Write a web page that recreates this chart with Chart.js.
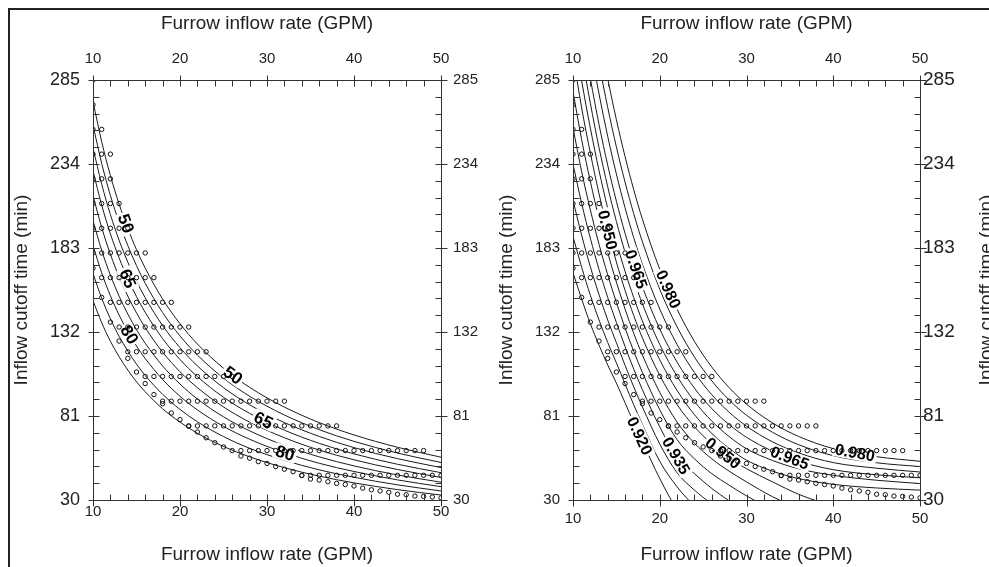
<!DOCTYPE html>
<html>
<head>
<meta charset="utf-8">
<script src="https://cdn.jsdelivr.net/npm/chart.js@4.4.0/dist/chart.umd.min.js"></script>
<style>
  html, body { margin: 0; padding: 0; background: #fff; overflow: hidden; }
  #frame { position: absolute; left: 8px; top: 8px; width: 1200px; height: 700px;
           border-left: 2px solid #222; border-top: 2px solid #222; }
  #left { position: absolute; left: 0; top: 0; }
  #right { position: absolute; left: 490px; top: 0; }
</style>
</head>
<body>
<div id="frame"></div>
<canvas id="left" width="490" height="567"></canvas>
<canvas id="right" width="530" height="567"></canvas>
<script>
// axis ticks
const qTicks = [10, 20, 30, 40, 50];
const tTicks = [30, 81, 132, 183, 234, 285];

// simulated runs: rows of cutoff times, first/last inflow rate on each row
const rowTimes = [285, 270, 255, 240, 225, 210, 195, 180, 165, 150, 135, 120, 105, 90, 75, 60, 45];
const rowFirstQ = [10, 10, 10, 10, 10, 10, 10, 10, 11, 12, 13, 14, 16, 18, 21, 26, 34];
const rowLastQ = [10, 10, 11, 12, 12, 13, 14, 16, 17, 19, 21, 23, 26, 32, 38, 48, 50];
// runs along the lower edge
const edgeQ = [10, 11, 12, 13, 14, 15, 16, 17, 18, 19, 20, 21, 22, 23, 24, 25, 27, 28, 29, 30,
  31, 32, 33, 34, 35, 36, 37, 38, 39, 40, 41, 42, 43, 44, 45, 46, 47, 48, 49, 50];
const edgeT = [170.7, 153, 138, 126.5, 116, 107.7, 100.7, 94, 88.5, 82.8, 78.8, 74.8, 71.3, 67.8, 64.8, 62.2, 56.7, 55.4, 53.3, 52.2,
  50.3, 48.7, 47.2, 44.8, 42.7, 42.1, 41.1, 40.1, 39.4, 38.5, 37.2, 36.2, 35.5, 34.7, 33.5, 33.2, 32.4, 32.2, 31.8, 31.3];

// left panel: efficiency contours (%)
const effQ = [10, 11, 12, 13, 14, 15, 16, 18, 20, 22, 25, 28, 32, 36, 40, 45, 50];
const ea50 = [272, 247.5, 227, 209.7, 194.9, 182, 170.8, 152, 137, 124.7, 110, 98.4, 86.4, 77, 69.5, 62, 56];
const ea55 = [257.6, 234.3, 214.9, 198.5, 184.5, 172.3, 161.6, 143.8, 129.6, 118, 104, 93, 81.6, 72.7, 65.6, 58.5, 52.8];
const ea60 = [243.7, 221.7, 203.3, 187.7, 174.4, 162.9, 152.8, 135.9, 122.5, 111.4, 98.2, 87.8, 77, 68.6, 61.8, 55.1, 49.7];
const ea65 = [229.8, 209, 191.6, 177, 164.4, 153.5, 143.9, 128, 115.3, 104.9, 92.4, 82.6, 72.4, 64.4, 58, 51.7, 46.6];
const ea70 = [214.9, 195.4, 179.2, 165.5, 153.8, 143.6, 134.6, 119.8, 107.9, 98.2, 86.5, 77.3, 67.8, 60.3, 54.4, 48.5, 43.7];
const ea75 = [199.6, 181.5, 166.5, 153.8, 142.9, 133.4, 125.2, 111.4, 100.4, 91.3, 80.5, 72, 63.1, 56.2, 50.7, 45.2, 40.8];
const ea80 = [184.5, 167.9, 154, 142.3, 132.2, 123.5, 115.9, 103.2, 93, 84.7, 74.7, 66.9, 58.7, 52.3, 47.3, 42.2, 38.1];
const ea85 = [167.5, 152.5, 140, 129.4, 120.4, 112.5, 105.6, 94.2, 85, 77.5, 68.5, 61.4, 54.1, 48.3, 43.8, 39.2, 35.5];
const ea90 = [151, 137.6, 126.4, 117, 108.9, 101.8, 95.7, 85.4, 77.3, 70.5, 62.5, 56.2, 49.6, 44.5, 40.4, 36.3, 33];

// right panel: uniformity contours
const duQ = [10, 11, 12, 13, 14, 15, 16, 17, 18, 20, 22, 24, 26, 28, 30, 33, 36, 40, 45, 50];
const du920 = [168, 152, 137, 124, 112, 101, 89, 77, 65.5, 43, 24, 10, null, null, null, null, null, null, null, null];
const du925 = [190, 171.3, 154.3, 139.3, 125.7, 113.3, 100.4, 87.8, 75.9, 53.5, 38, 26, null, null, null, null, null, null, null, null];
const du930 = [212, 190.7, 171.6, 154.7, 139.3, 125.5, 111.8, 98.7, 86.5, 64, 46.5, 36, 27.5, null, null, null, null, null, null, null];
const du935 = [234, 210, 188.9, 170, 153, 137.8, 123.2, 109.5, 97, 74.4, 56, 46, 37, 29.5, 22, null, null, null, null, null];
const du940 = [256, 229.3, 206.1, 185.3, 166.7, 150, 134.5, 120.3, 107.4, 84.8, 66.6, 55, 46, 39, 32.5, 24, null, null, null, null];
const du945 = [278, 248.7, 223.4, 200.7, 180.3, 162.3, 145.9, 131.2, 118, 95.3, 77.3, 64.5, 55, 47.5, 41, 32, 25, null, null, null];
const du950 = [300, 268, 240.7, 216, 194, 174.5, 157.3, 142, 128.4, 105.7, 87.9, 74.5, 64, 55.5, 49, 41, 33.5, 26, null, null];
const du955 = [317.7, 284.5, 255.8, 230, 207.1, 186.8, 168.8, 152.9, 138.7, 115.1, 96.5, 81.8, 70.4, 61.3, 54.2, 47.5, 43, 39.5, 37.3, 36];
const du960 = [335.3, 301, 270.9, 244, 220.2, 199.1, 180.4, 163.8, 149.1, 124.4, 105.1, 89.9, 77.9, 68.5, 61.1, 54, 49, 45, 42, 40];
const du965 = [353, 317.5, 286, 258, 233.3, 211.4, 191.9, 174.7, 159.4, 133.8, 113.7, 97.9, 85.5, 75.8, 68.1, 59.6, 53.6, 48.4, 45.3, 43.5];
const du970 = [375, 338.3, 305.7, 276.6, 250.8, 227.9, 207.4, 189.3, 173.1, 145.9, 124.4, 107.4, 93.9, 83.3, 74.8, 65.3, 58.6, 52.7, 49.3, 47];
const du975 = [397, 359.2, 325.3, 295.2, 268.4, 244.4, 223, 203.8, 186.8, 158, 135.1, 116.8, 102.3, 90.7, 81.5, 71.1, 63.6, 56.9, 52.6, 50.3];
const du980 = [419, 380, 345, 313.8, 285.9, 260.9, 238.5, 218.4, 200.5, 170.1, 145.8, 126.3, 110.7, 98.2, 88.2, 76.8, 68.6, 61.2, 56.3, 53.5];

// contour labels: text, inflow rate where it sits, index of its line
const effLabelText = ['50', '65', '80', '50', '65', '80'];
const effLabelQ = [13.8, 14, 14.2, 26.1, 29.6, 32.1];
const effLabelLine = [0, 3, 6, 0, 3, 6];
const duLabelText = ['0.950', '0.965', '0.980', '0.920', '0.935', '0.950', '0.965', '0.980'];
const duLabelQ = [14, 17.3, 21, 17.7, 21.9, 27.3, 35, 42.5];
const duLabelLine = [6, 9, 12, 0, 3, 6, 9, 12];

Chart.defaults.font.family = '"Liberation Sans", Arial, sans-serif';
Chart.defaults.color = '#222';

const runPoints = [];
rowTimes.forEach((t, i) => {
  for (let q = rowFirstQ[i]; q <= rowLastQ[i]; q++) runPoints.push({ x: q, y: t });
});
edgeQ.forEach((q, i) => runPoints.push({ x: q, y: edgeT[i] }));

// axis box with crossing major ticks and inward minor ticks
const tickMarks = {
  id: 'tickMarks',
  afterDraw(chart) {
    const { ctx, chartArea: a, scales } = chart;
    const L = Math.round(a.left) + 0.5, R = Math.round(a.right) + 0.5;
    const T = Math.round(a.top) + 0.5, B = Math.round(a.bottom) + 0.5;
    ctx.save();
    ctx.strokeStyle = '#333';
    ctx.lineWidth = 1;
    ctx.beginPath();
    ctx.rect(L, T, R - L, B - T);
    const xs = scales.x.ticks.map((t) => t.value);
    xs.forEach((v, i) => {
      const px = Math.round(scales.x.getPixelForValue(v)) + 0.5;
      ctx.moveTo(px, T - 5); ctx.lineTo(px, T + 6);
      ctx.moveTo(px, B - 6); ctx.lineTo(px, B + 6);
      if (i === xs.length - 1) return;
      for (let k = 1; k < 5; k++) {
        const mx = Math.round(scales.x.getPixelForValue(v + (xs[i + 1] - v) * k / 5)) + 0.5;
        ctx.moveTo(mx, T); ctx.lineTo(mx, T + 6);
        ctx.moveTo(mx, B); ctx.lineTo(mx, B - 6);
      }
    });
    const ys = scales.y.ticks.map((t) => t.value);
    ys.forEach((v, i) => {
      const py = Math.round(scales.y.getPixelForValue(v)) + 0.5;
      ctx.moveTo(L - 5, py); ctx.lineTo(L + 6, py);
      ctx.moveTo(R - 6, py); ctx.lineTo(R + 6, py);
      if (i === ys.length - 1) return;
      for (let k = 1; k < 5; k++) {
        const my = Math.round(scales.y.getPixelForValue(v + (ys[i + 1] - v) * k / 5)) + 0.5;
        ctx.moveTo(L, my); ctx.lineTo(L + 6, my);
        ctx.moveTo(R, my); ctx.lineTo(R - 6, my);
      }
    });
    ctx.stroke();
    ctx.restore();
  },
};

// contour labels drawn on the lines, before the run circles
const contourLabels = {
  id: 'contourLabels',
  beforeDatasetDraw(chart, args, opts) {
    if (args.index !== 0 || !opts.text) return;
    const { ctx, scales: { x, y } } = chart;
    ctx.save();
    ctx.font = opts.font;
    ctx.textAlign = 'center';
    ctx.textBaseline = 'middle';
    opts.text.forEach((text, n) => {
      const q = opts.q[n];
      const pts = chart.data.datasets[opts.line[n] + 1].data.filter((p) => p.y !== null);
      let j = 1;
      while (j < pts.length - 1 && pts[j].x < q) j++;
      const p0 = pts[j - 1], p1 = pts[j];
      const t = p0.y + (q - p0.x) / (p1.x - p0.x) * (p1.y - p0.y);
      const ang = Math.atan2(y.getPixelForValue(p1.y) - y.getPixelForValue(p0.y),
        x.getPixelForValue(p1.x) - x.getPixelForValue(p0.x));
      const w = ctx.measureText(text).width;
      ctx.save();
      ctx.translate(x.getPixelForValue(q), y.getPixelForValue(t));
      ctx.rotate(ang);
      ctx.fillStyle = '#fff';
      ctx.fillRect(-w / 2 - 2, -opts.size * 0.45, w + 4, opts.size * 0.9);
      ctx.fillStyle = '#000';
      ctx.fillText(text, 0, 1);
      ctx.restore();
    });
    ctx.restore();
  },
};

// far right title, mostly outside the window
const sideTitle = {
  id: 'sideTitle',
  afterDraw(chart, args, opts) {
    if (!opts.text) return;
    const { ctx, chartArea: a } = chart;
    ctx.save();
    ctx.translate(opts.x, (a.top + a.bottom) / 2);
    ctx.rotate(-Math.PI / 2);
    ctx.font = '19px "Liberation Sans", Arial, sans-serif';
    ctx.fillStyle = '#222';
    ctx.textAlign = 'center';
    ctx.textBaseline = 'middle';
    ctx.fillText(opts.text, 0, 0);
    ctx.restore();
  },
};

const useTicks = (values) => (scale) => { scale.ticks = values.map((v) => ({ value: v })); };
const fixHeight = (h) => (scale) => { scale.height = h; };
const fixWidth = (w) => (scale) => { scale.width = w; };
const noGrid = { display: false, drawTicks: false };

function buildPanel(id, q, lines, labels, s) {
  const datasets = [{
    data: runPoints,
    showLine: false,
    pointRadius: 2.2,
    pointBorderWidth: 1,
    pointBorderColor: '#111',
    pointBackgroundColor: 'rgba(0,0,0,0)',
  }];
  lines.forEach((t) => {
    datasets.push({
      data: q.map((v, i) => ({ x: v, y: t[i] })),
      borderColor: '#1a1a1a',
      borderWidth: 1,
      pointRadius: 0,
      cubicInterpolationMode: 'monotone',
    });
  });
  const title = (pad) => ({ display: true, text: 'Furrow inflow rate (GPM)', font: { size: 19 }, padding: pad });
  return new Chart(document.getElementById(id), {
    type: 'line',
    data: { datasets },
    plugins: [tickMarks, contourLabels, sideTitle],
    options: {
      responsive: false,
      animation: false,
      events: [],
      layout: { padding: 0 },
      plugins: {
        legend: { display: false },
        tooltip: { enabled: false },
        contourLabels: labels,
        sideTitle: { text: s.sideTitle, x: s.sideX },
      },
      scales: {
        x: {
          type: 'linear', position: 'bottom', min: 10, max: 50,
          afterBuildTicks: useTicks(qTicks), afterFit: fixHeight(67),
          grid: noGrid, border: { display: false },
          ticks: { font: { size: 15 }, padding: s.bottomPad, maxRotation: 0 },
          title: title({ top: 0, bottom: 1 }),
        },
        xTop: {
          type: 'linear', position: 'top', min: 10, max: 50,
          afterBuildTicks: useTicks(qTicks), afterFit: fixHeight(80),
          grid: noGrid, border: { display: false },
          ticks: { font: { size: 15 }, padding: 12, maxRotation: 0 },
          title: title({ top: 12, bottom: 0 }),
        },
        y: {
          type: 'linear', position: 'left', min: 30, max: 285,
          afterBuildTicks: useTicks(tTicks), afterFit: fixWidth(s.leftW),
          grid: noGrid, border: { display: false },
          ticks: { font: { size: s.leftFont }, padding: 13 },
          title: { display: true, text: 'Inflow cutoff time (min)', font: { size: 19 }, padding: { top: s.titlePad, bottom: 0 } },
        },
        yRight: {
          type: 'linear', position: 'right', min: 30, max: 285,
          afterBuildTicks: useTicks(tTicks), afterFit: fixWidth(s.rightW),
          grid: noGrid, border: { display: false },
          ticks: { font: { size: s.rightFont }, padding: s.rightPad },
        },
      },
    },
  });
}

buildPanel('left', effQ,
  [ea50, ea55, ea60, ea65, ea70, ea75, ea80, ea85, ea90],
  { text: effLabelText, q: effLabelQ, line: effLabelLine, font: 'bold 17px "Liberation Sans", Arial, sans-serif', size: 17 },
  { leftW: 93, rightW: 49, leftFont: 18, rightFont: 15, rightPad: 12, bottomPad: 3, titlePad: 10 });

buildPanel('right', duQ,
  [du920, du925, du930, du935, du940, du945, du950, du955, du960, du965, du970, du975, du980],
  { text: duLabelText, q: duLabelQ, line: duLabelLine, font: 'bold 16px "Liberation Sans", Arial, sans-serif', size: 16 },
  { leftW: 83, rightW: 100, leftFont: 15, rightFont: 19, rightPad: 3, bottomPad: 10, titlePad: 5,
    sideTitle: 'Inflow cutoff time (min)', sideX: 497 });
</script>
</body>
</html>
